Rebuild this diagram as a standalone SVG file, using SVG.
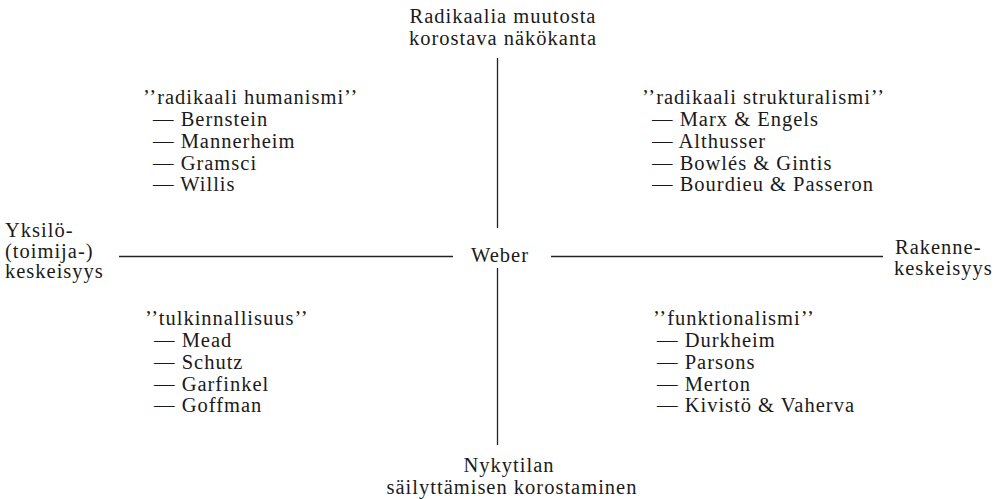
<svg xmlns="http://www.w3.org/2000/svg" width="999" height="499" viewBox="0 0 999 499">
<style>
text{font-family:'Liberation Serif','DejaVu Serif',serif;font-size:20.5px;letter-spacing:1px;fill:#1a1a1a}
.m{text-anchor:middle}
.ax{stroke:#222;stroke-width:1.3;fill:none}
</style>
<rect width="999" height="499" fill="#fff"/>
<g id="connectors">
<line class="ax" x1="497.5" y1="58" x2="497.5" y2="228"/>
<line class="ax" x1="497.5" y1="268" x2="497.5" y2="445"/>
<line class="ax" x1="119" y1="256.5" x2="453" y2="256.5"/>
<line class="ax" x1="551" y1="256.5" x2="883" y2="256.5"/>
</g>
<g id="top"><text class="m" x="503" y="23">Radikaalia muutosta</text><text class="m" x="503" y="45">korostava näkökanta</text></g>
<g id="bottom"><text class="m" x="509" y="472">Nykytilan</text><text class="m" x="512" y="494">säilyttämisen korostaminen</text></g>
<g id="left"><text x="5" y="237">Yksilö-</text><text x="5" y="258">(toimija-)</text><text x="5" y="278">keskeisyys</text></g>
<g id="right"><text x="895" y="254">Rakenne-</text><text x="894" y="275">keskeisyys</text></g>
<g id="center"><text x="471" y="262">Weber</text></g>
<g id="q1"><text x="143" y="104">’’radikaali humanismi’’</text>
<text x="153" y="126">— Bernstein</text><text x="153" y="148">— Mannerheim</text><text x="153" y="170">— Gramsci</text><text x="153" y="191">— Willis</text></g>
<g id="q2"><text x="642" y="104">’’radikaali strukturalismi’’</text>
<text x="652" y="126">— Marx &amp; Engels</text><text x="652" y="148">— Althusser</text><text x="652" y="170">— Bowlés &amp; Gintis</text><text x="652" y="191">— Bourdieu &amp; Passeron</text></g>
<g id="q3"><text x="145" y="325">’’tulkinnallisuus’’</text>
<text x="154" y="347">— Mead</text><text x="154" y="369">— Schutz</text><text x="154" y="391">— Garfinkel</text><text x="154" y="412">— Goffman</text></g>
<g id="q4"><text x="653" y="325">’’funktionalismi’’</text>
<text x="657" y="347">— Durkheim</text><text x="657" y="369">— Parsons</text><text x="657" y="391">— Merton</text><text x="657" y="412">— Kivistö &amp; Vaherva</text></g>
</svg>
